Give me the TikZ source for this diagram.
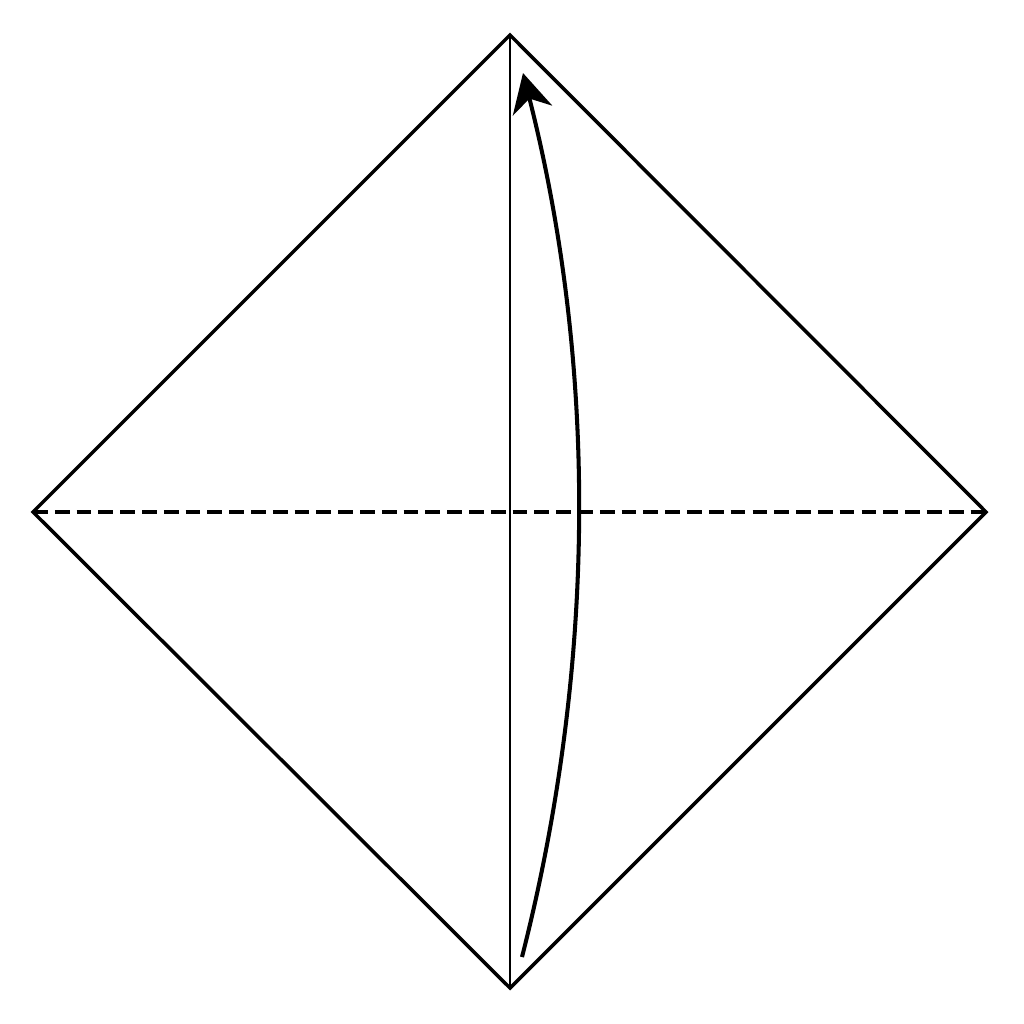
\documentclass[tikz,border=0pt]{standalone}
\usetikzlibrary{arrows.meta}

\tikzset{
  edge/.style={line width=1pt, line join=miter},
  crease/.style={line width=0.55pt},
  valley/.style={line width=1pt, dash pattern=on 4.2pt off 2pt},
  foldarrow/.style={line width=1.15pt, -{Stealth[length=11pt, width=11.5pt, inset=3.5pt]}}
}

\begin{document}
\begin{tikzpicture}[x=0.01cm, y=-0.01cm]
\useasboundingbox (0,0) rectangle (1024,1024);

\coordinate (T) at (510,35);
\coordinate (L) at (33,512);
\coordinate (R) at (986,512);
\coordinate (B) at (510,988);

\draw[edge] (T) -- (R) -- (B) -- (L) -- cycle;
\draw[crease] (T) -- (B);
\draw[valley] (L) -- (R);

\coordinate (S) at (522,957);
\coordinate (E) at (523,73);
\draw[foldarrow] (S) .. controls (597,663) and (597,365) .. (E);
\end{tikzpicture}
\end{document}
